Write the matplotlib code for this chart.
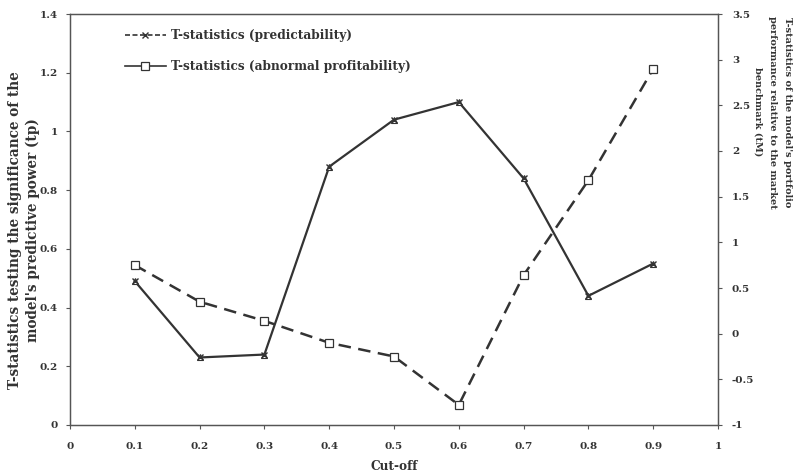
import matplotlib
matplotlib.use("Agg")
import matplotlib.pyplot as plt
from matplotlib.lines import Line2D

# Cut-off levels and the two t-statistic series
cutoff = [0.1, 0.2, 0.3, 0.4, 0.5, 0.6, 0.7, 0.8, 0.9]
t_predictability = [0.49, 0.23, 0.24, 0.88, 1.04, 1.10, 0.84, 0.44, 0.55]
t_profitability = [0.75, 0.35, 0.14, -0.10, -0.25, -0.78, 0.64, 1.68, 2.90]

x_ticks = [0, 0.1, 0.2, 0.3, 0.4, 0.5, 0.6, 0.7, 0.8, 0.9, 1]
x_tick_labels = ["0", "0.1", "0.2", "0.3", "0.4", "0.5", "0.6", "0.7", "0.8", "0.9", "1"]
left_ticks = [0, 0.2, 0.4, 0.6, 0.8, 1.0, 1.2, 1.4]
left_tick_labels = ["0", "0.2", "0.4", "0.6", "0.8", "1", "1.2", "1.4"]
right_ticks = [-1, -0.5, 0, 0.5, 1, 1.5, 2, 2.5, 3, 3.5]
right_tick_labels = ["-1", "-0.5", "0", "0.5", "1", "1.5", "2", "2.5", "3", "3.5"]

INK = "#333333"
AXIS = "#555555"
FONT = dict(family="DejaVu Serif", weight="bold", color=INK)

fig = plt.figure(figsize=(7.95, 4.72), dpi=100)
fig.patch.set_facecolor("white")
ax = fig.add_axes([70 / 795, 47 / 472, 648 / 795, 411 / 472])
ax2 = ax.twinx()

# Predictability series (left axis): solid line with x markers over small triangles
ax.plot(cutoff, t_predictability, color=INK, lw=1.6, ls="-", zorder=3)
ax.plot(cutoff, t_predictability, ls="none", marker="^", ms=4, mfc="white",
        mec=INK, mew=0.8, zorder=4)
ax.plot(cutoff, t_predictability, ls="none", marker="x", ms=5, mec=INK,
        mew=1.0, zorder=5)

# Abnormal profitability series (right axis): dashed line with open squares
ax2.plot(cutoff, t_profitability, color=INK, lw=1.8, ls=(0, (5, 3)),
         marker="s", ms=6, mfc="white", mec=INK, mew=0.9, zorder=3)

ax.set_xlim(0, 1)
ax.set_ylim(0, 1.4)
ax2.set_ylim(-1, 3.5)

ax.set_xticks(x_ticks)
ax.set_xticklabels(x_tick_labels)
ax.set_yticks(left_ticks)
ax.set_yticklabels(left_tick_labels)
ax2.set_yticks(right_ticks)
ax2.set_yticklabels(right_tick_labels)

for a in (ax, ax2):
    for sp in a.spines.values():
        sp.set_color(AXIS)
        sp.set_linewidth(0.9)
    a.tick_params(length=3, width=0.8, color=AXIS, labelsize=7.5, labelcolor=INK)
    for lab in a.get_xticklabels() + a.get_yticklabels():
        lab.set_fontfamily("DejaVu Serif")
        lab.set_fontweight("bold")
ax.tick_params(axis="x", pad=9)
ax.tick_params(axis="y", pad=6)
ax2.tick_params(axis="y", pad=7)

ax.set_xlabel("Cut-off", fontsize=8.7, labelpad=7, **FONT)
fig.text(24 / 795, 1 - 230 / 472,
         "T-statistics testing the significance of the\nmodel's predictive power (tp)",
         rotation=90, ha="center", va="center", multialignment="center",
         fontsize=9.8, linespacing=1.3, **FONT)
fig.text(773 / 795, 1 - 112 / 472,
         "T-statistics of the model's portfolio\nperformance relative to the market\nbenchmark (tM)",
         rotation=-90, ha="center", va="center", multialignment="center",
         fontsize=7.0, linespacing=1.8, **FONT)

handles = [
    Line2D([], [], color=INK, lw=1.2, ls=(0, (3, 1.5)), marker="x", ms=5, mew=1.0),
    Line2D([], [], color=INK, lw=1.2, ls="-", marker="s", ms=6, mfc="white", mew=0.9),
]
leg = ax.legend(handles, ["T-statistics (predictability)",
                          "T-statistics (abnormal profitability)"],
                loc="upper left", bbox_to_anchor=(0.068, 0.99), frameon=False,
                handlelength=3.4, handletextpad=0.4, labelspacing=1.5,
                prop=dict(family="DejaVu Serif", weight="bold", size=8.7))
for t in leg.get_texts():
    t.set_color(INK)

fig.savefig("out.png", dpi=100, facecolor="white")
